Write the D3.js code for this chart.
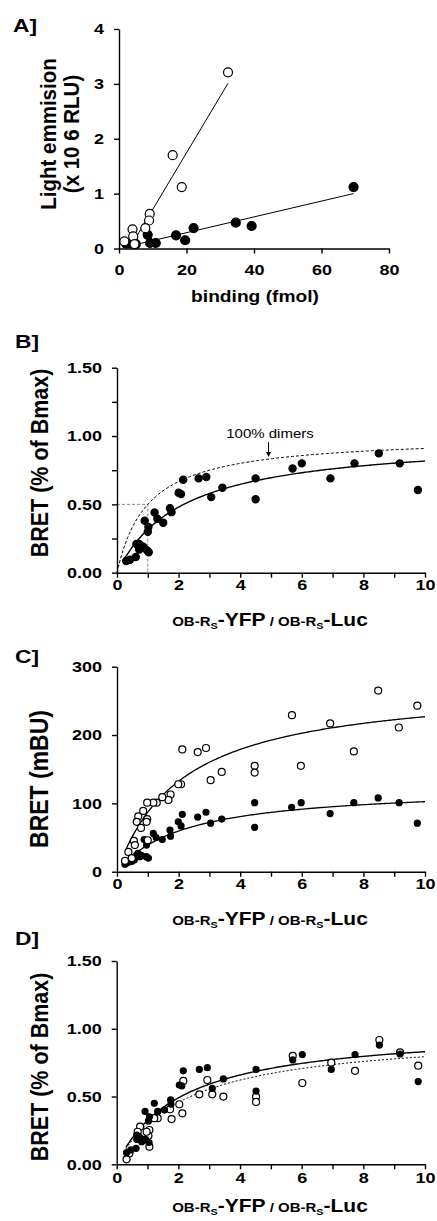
<!DOCTYPE html>
<html>
<head>
<meta charset="utf-8">
<script src="https://cdn.jsdelivr.net/npm/d3@7"></script>
<style>
  body { margin: 0; background: #fff; }
  svg text { font-family: "Liberation Sans", Arial, Helvetica, sans-serif; white-space: pre; }
</style>
</head>
<body>
<svg id="fig" width="437" height="1221"></svg>
<script>
// ---- data ----
// A] light emission vs binding, [fmol, x10^6 RLU]
var aOpen = [[32.3, 3.21], [15.9, 1.70], [18.6, 1.12], [9.1, 0.63], [8.9, 0.51], [7.8, 0.37],
  [4.0, 0.35], [4.2, 0.22], [1.6, 0.13], [4.6, 0.08]];
var aFilled = [[69.5, 1.12], [34.6, 0.47], [39.3, 0.41], [22.1, 0.37], [16.9, 0.24], [19.6, 0.15],
  [8.5, 0.25], [9.2, 0.10], [10.9, 0.10], [2.1, 0.09], [3.5, 0.09], [5.0, 0.08]];
var aOpenFit = {slope: 0.103, intercept: -0.317, from: 5.0, to: 32.3};
var aFilledFit = {slope: 0.0144, intercept: 0, from: 5.9, to: 69.5};

// B] BRET (% of Bmax) vs YFP/Luc ratio
var bFilled = [[0.30, 0.085], [0.42, 0.095], [0.61, 0.115], [0.63, 0.21], [0.72, 0.21], [0.78, 0.195],
  [0.72, 0.17], [0.85, 0.19], [0.90, 0.38], [0.97, 0.165], [1.03, 0.15], [1.0, 0.30], [1.02, 0.335],
  [1.22, 0.44], [1.31, 0.395], [1.50, 0.366], [1.72, 0.472], [1.77, 0.443], [2.0, 0.585], [2.08, 0.575],
  [2.15, 0.68], [2.65, 0.69], [2.90, 0.70], [3.06, 0.553], [3.42, 0.622], [4.50, 0.69], [4.50, 0.537],
  [5.70, 0.762], [6.0, 0.80], [6.93, 0.69], [7.71, 0.80], [8.50, 0.873], [9.18, 0.80], [9.77, 0.605]];
var bFit = {bmax: 0.991, kd: 2.13, from: 0.25, to: 10};
var bDimerFit = {bmax: 1.0, kd: 1.0, from: 0, to: 10};
var bHalf = [1, 0.5]; // ratio giving 50% of dimers
var bArrowX = 4.92;

// C] BRET (mBU)
var cOpen = [[8.48, 265], [9.75, 243], [9.15, 211], [5.68, 229], [6.92, 217], [7.69, 176], [5.97, 155],
  [4.47, 155], [4.47, 145], [3.40, 146], [3.04, 134], [2.89, 181], [2.62, 175], [2.12, 179], [2.08, 128],
  [1.99, 128], [1.74, 113], [1.67, 105], [1.47, 109], [1.29, 101], [1.18, 101], [0.98, 101], [0.85, 89],
  [0.69, 81], [0.64, 73], [0.98, 77], [0.96, 73], [0.78, 64], [0.55, 45], [0.58, 39], [0.37, 29],
  [0.26, 16], [0.48, 20], [1.0, 46]];
var cFilled = [[8.48, 108], [9.16, 101], [9.75, 71], [7.69, 101], [6.92, 85], [5.98, 101], [5.67, 94],
  [4.47, 101], [4.47, 65], [3.40, 77], [3.04, 71], [2.89, 87], [2.62, 80], [2.12, 84], [2.08, 67],
  [1.99, 73], [1.72, 61], [1.74, 52], [1.47, 47], [1.18, 56], [1.27, 50], [0.98, 45], [0.88, 47],
  [0.96, 39], [1.02, 20], [0.95, 22], [0.79, 24], [0.68, 27], [0.63, 24], [0.74, 22], [0.56, 17],
  [0.47, 15], [0.34, 13], [0.26, 11]];
var cOpenFit = {bmax: 276, kd: 2.17, from: 0.3, to: 10};
var cFilledFit = {bmax: 125, kd: 2.2, from: 0.25, to: 10};

// D] BRET (% of Bmax), both series normalised
var dFilled = [[9.78, 0.61], [9.19, 0.814], [8.52, 0.88], [7.73, 0.81], [6.96, 0.70], [6.02, 0.81],
  [5.71, 0.77], [4.52, 0.70], [4.52, 0.54], [3.46, 0.63], [3.10, 0.56], [2.94, 0.713], [2.68, 0.70],
  [2.16, 0.69], [2.11, 0.578], [2.03, 0.585], [1.75, 0.475], [1.76, 0.443], [1.55, 0.40], [1.22, 0.45],
  [1.33, 0.39], [0.92, 0.39], [1.06, 0.35], [1.03, 0.32], [0.65, 0.216], [0.74, 0.20], [0.81, 0.167],
  [0.94, 0.184], [0.65, 0.184], [1.05, 0.16], [0.46, 0.106], [0.32, 0.086], [0.63, 0.118]];
var dOpen = [[8.52, 0.917], [9.19, 0.826], [9.78, 0.728], [7.73, 0.69], [6.96, 0.75], [6.02, 0.60],
  [5.71, 0.80], [4.52, 0.50], [4.52, 0.46], [3.46, 0.50], [3.10, 0.516], [2.94, 0.622], [2.68, 0.516],
  [2.16, 0.615], [2.13, 0.376], [2.03, 0.443], [1.78, 0.334], [1.73, 0.406], [1.33, 0.34], [1.22, 0.34],
  [1.06, 0.253], [1.03, 0.21], [1.06, 0.13], [0.76, 0.278], [0.68, 0.24], [0.97, 0.24], [0.86, 0.18],
  [0.41, 0.08], [0.32, 0.037]];
var dFilledFit = {bmax: 1.006, kd: 2.107, from: 0.3, to: 10};
var dOpenFit = {bmax: 0.974, kd: 2.27, from: 0.3, to: 10};

var ratioTicks = d3.range(0, 11);
var bmaxTicks = [0, 0.25, 0.5, 0.75, 1, 1.25, 1.5];

// ---- drawing ----
var svg = d3.select("#fig");
var SX = 1.2; // the printed lettering is stretched sideways

function stretched(g, x, y, str, size, weight, anchor) {
  return g.append("text")
    .attr("transform", "translate(" + x + "," + y + ") scale(" + SX + ",1)")
    .attr("text-anchor", anchor || "start")
    .attr("font-size", size)
    .attr("font-weight", weight || "bold")
    .text(str);
}

function yTitle(g, x, cy, str, size) {
  g.append("text")
    .attr("transform", "translate(" + x + "," + cy + ") rotate(-90) scale(1,1.12)")
    .attr("text-anchor", "middle")
    .attr("font-size", size)
    .attr("font-weight", "bold")
    .text(str);
}

function ratioTitle(g, cx, baseline) {
  var t = g.append("text")
    .attr("transform", "translate(" + cx + "," + baseline + ") scale(" + SX + ",1)")
    .attr("text-anchor", "middle")
    .attr("font-weight", "bold");
  [["OB-R", 12.5, 0], ["S", 9, 3], ["-YFP", 17.5, -3], [" / ", 12.5, 0],
   ["OB-R", 12.5, 0], ["S", 9, 3], ["-Luc", 17.5, -3]].forEach(function(p) {
    t.append("tspan").attr("font-size", p[1]).attr("dy", p[2]).text(p[0]);
  });
}

function styleAxis(ag) {
  ag.attr("font-family", null).attr("font-size", null);
  ag.select(".domain").attr("stroke-width", 1.4);
  ag.selectAll(".tick line").attr("stroke-width", 1.4);
  ag.selectAll(".tick text")
    .attr("font-size", 15).attr("font-weight", "bold")
    .attr("transform", "scale(" + SX + ",1)");
}

function makeAxes(g, x, y, o) {
  var ax = g.append("g").attr("transform", "translate(0," + y.range()[0] + ")")
    .call(d3.axisBottom(x).tickValues(o.xTicks).tickSize(5).tickSizeOuter(0)
      .tickPadding(o.xPad).tickFormat(o.xFormat));
  styleAxis(ax);
  var ay = g.append("g").attr("transform", "translate(" + x.range()[0] + ",0)")
    .call(d3.axisLeft(y).tickValues(o.yTicks).tickSize(5).tickSizeOuter(0)
      .tickPadding(7.5).tickFormat(o.yFormat));
  styleAxis(ay);
}

function dots(g, x, y, data, r, filled) {
  g.append("g").selectAll("circle").data(data).enter().append("circle")
    .attr("cx", function(d) { return x(d[0]); })
    .attr("cy", function(d) { return y(d[1]); })
    .attr("r", r)
    .attr("fill", filled ? "#000" : "#fff")
    .attr("stroke", "#000")
    .attr("stroke-width", 1.2);
}

function hyperbola(g, x, y, fit, width, dash) {
  var pts = d3.range(fit.from, fit.to + 1e-9, 0.05).map(function(v) {
    return [v, fit.bmax * v / (fit.kd + v)];
  });
  g.append("path")
    .attr("d", d3.line().x(function(d) { return x(d[0]); }).y(function(d) { return y(d[1]); })(pts))
    .attr("fill", "none").attr("stroke", "#000")
    .attr("stroke-width", width).attr("stroke-dasharray", dash || null);
}

function straight(g, x, y, fit) {
  g.append("line")
    .attr("x1", x(fit.from)).attr("y1", y(fit.slope * fit.from + fit.intercept))
    .attr("x2", x(fit.to)).attr("y2", y(fit.slope * fit.to + fit.intercept))
    .attr("stroke", "#000").attr("stroke-width", 1);
}

var evenLabel = function(d) { return d % 2 === 0 ? d : ""; };
var bmaxLabel = function(d) { return d % 0.5 === 0 ? d3.format(".2f")(d) : ""; };

// A]
(function() {
  var g = svg.append("g");
  var x = d3.scaleLinear().domain([0, 80]).range([119, 389]);
  var y = d3.scaleLinear().domain([0, 4]).range([248.5, 29]);
  straight(g, x, y, aOpenFit);
  straight(g, x, y, aFilledFit);
  makeAxes(g, x, y, {xTicks: [0, 20, 40, 60, 80], xPad: 11, xFormat: d3.format("d"),
    yTicks: [0, 1, 2, 3, 4], yFormat: d3.format("d")});
  dots(g, x, y, aFilled, 4.5, true);
  dots(g, x, y, aOpen, 4.5, false);
  stretched(g, 13, 32, "A]", 19);
  yTitle(g, 55.5, 134, "Light emmision", 20.5);
  yTitle(g, 79, 134, "(x 10 6 RLU)", 20.5);
  stretched(g, 255, 302, "binding (fmol)", 16, "bold", "middle");
})();

// B]
(function() {
  var g = svg.append("g");
  var x = d3.scaleLinear().domain([0, 10]).range([117, 425]);
  var y = d3.scaleLinear().domain([0, 1.5]).range([572.7, 367.7]);
  g.append("path")
    .attr("d", "M" + x(0) + "," + y(bHalf[1]) + "H" + x(bHalf[0]) + "V" + y(0))
    .attr("fill", "none").attr("stroke", "#888").attr("stroke-width", 1).attr("stroke-dasharray", "3,2");
  hyperbola(g, x, y, bDimerFit, 1, "3,2");
  hyperbola(g, x, y, bFit, 1.4);
  makeAxes(g, x, y, {xTicks: ratioTicks, xPad: 1.5, xFormat: evenLabel, yTicks: bmaxTicks, yFormat: bmaxLabel});
  dots(g, x, y, bFilled, 3.6, true);
  // 100% dimers arrow
  var ax = x(bArrowX), tip = y(bDimerFit.bmax * bArrowX / (bDimerFit.kd + bArrowX)) - 2;
  g.append("line").attr("x1", ax).attr("x2", ax).attr("y1", tip - 15).attr("y2", tip - 4)
    .attr("stroke", "#000").attr("stroke-width", 1);
  g.append("path").attr("d", "M" + (ax - 2.5) + "," + (tip - 5) + "L" + (ax + 2.5) + "," + (tip - 5) + "L" + ax + "," + tip + "Z")
    .attr("fill", "#000");
  stretched(g, 270, 438, "100% dimers", 12.5, "normal", "middle");
  stretched(g, 15, 348, "B]", 19);
  yTitle(g, 48, 463, "BRET (% of Bmax)", 21.5);
  ratioTitle(g, 270, 626);
})();

// C]
(function() {
  var g = svg.append("g");
  var x = d3.scaleLinear().domain([0, 10]).range([117, 425]);
  var y = d3.scaleLinear().domain([0, 300]).range([871.7, 666.7]);
  hyperbola(g, x, y, cOpenFit, 1.3);
  hyperbola(g, x, y, cFilledFit, 1.3);
  makeAxes(g, x, y, {xTicks: ratioTicks, xPad: 1.5, xFormat: evenLabel, yTicks: [0, 100, 200, 300], yFormat: d3.format("d")});
  dots(g, x, y, cFilled, 3, true);
  dots(g, x, y, cOpen, 3.5, false);
  stretched(g, 15, 663, "C]", 19);
  yTitle(g, 48, 779, "BRET (mBU)", 23);
  ratioTitle(g, 270, 925);
})();

// D]
(function() {
  var g = svg.append("g");
  var x = d3.scaleLinear().domain([0, 10]).range([116.7, 425]);
  var y = d3.scaleLinear().domain([0, 1.5]).range([1164.3, 961]);
  hyperbola(g, x, y, dOpenFit, 1, "2,2");
  hyperbola(g, x, y, dFilledFit, 1.4);
  makeAxes(g, x, y, {xTicks: ratioTicks, xPad: 3, xFormat: evenLabel, yTicks: [0, 0.5, 1, 1.5], yFormat: bmaxLabel});
  dots(g, x, y, dOpen, 3.5, false);
  dots(g, x, y, dFilled, 3, true);
  stretched(g, 15, 945, "D]", 19);
  yTitle(g, 48, 1067, "BRET (% of Bmax)", 21.5);
  ratioTitle(g, 270, 1212);
})();
</script>
</body>
</html>
